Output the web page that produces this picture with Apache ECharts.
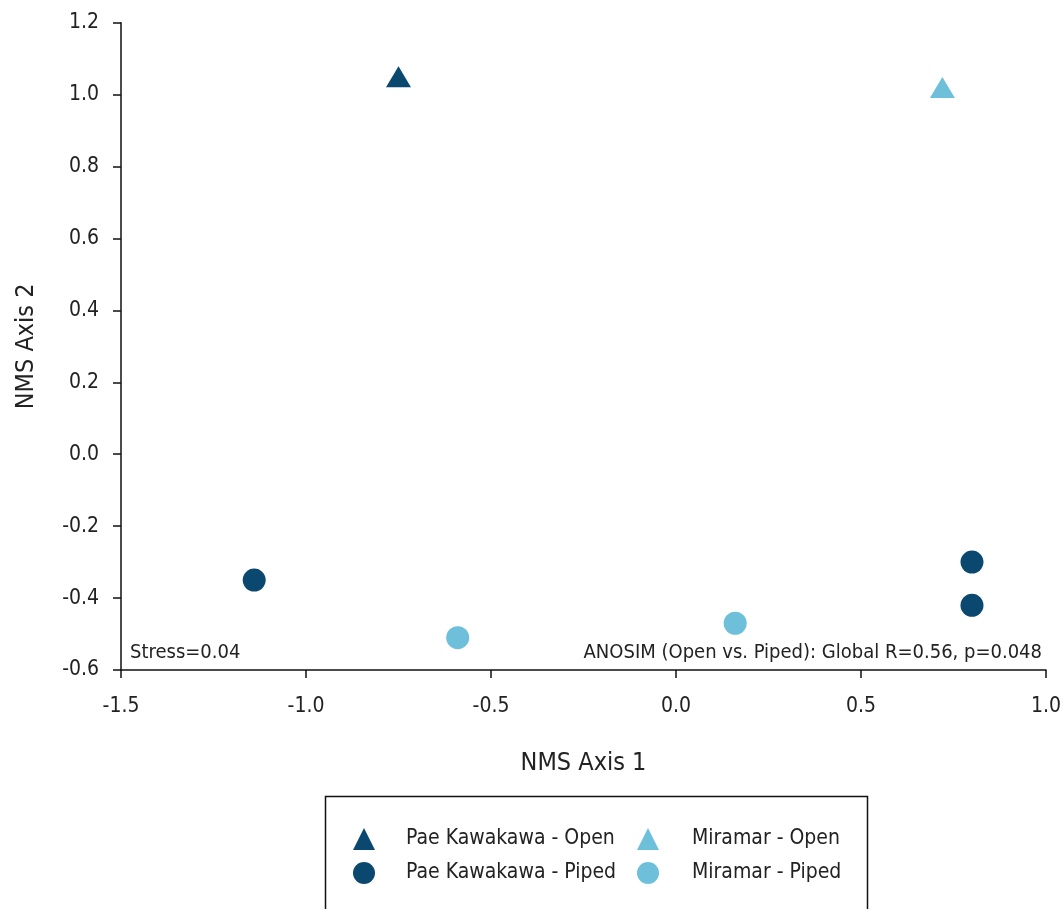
<!DOCTYPE html>
<html>
<head>
<meta charset="utf-8">
<script src="https://cdn.jsdelivr.net/npm/echarts@6/dist/echarts.min.js"></script>
<style>
html,body{margin:0;padding:0;background:#fff;}
#chart{width:1064px;height:909px;}
</style>
</head>
<body>
<div id="chart"></div>
<script>
// ---- data ----
var seriesNames = ['Pae Kawakawa - Open', 'Pae Kawakawa - Piped', 'Miramar - Open', 'Miramar - Piped'];
var paeOpen = [[-0.75, 1.05]];
var paePiped = [[-1.14, -0.35], [0.80, -0.30], [0.80, -0.42]];
var miramarOpen = [[0.72, 1.02]];
var miramarPiped = [[-0.59, -0.51], [0.16, -0.47]];
var xTicks = [-1.5, -1.0, -0.5, 0.0, 0.5, 1.0];
var yTicks = [-0.6, -0.4, -0.2, 0.0, 0.2, 0.4, 0.6, 0.8, 1.0, 1.2];
var stressText = 'Stress=0.04';
var anosimText = 'ANOSIM (Open vs. Piped): Global R=0.56, p=0.048';

var FONT = "'Liberation Sans Narrow', 'DejaVu Sans Condensed', Roboto, sans-serif";
var DARK = '#0a4870';
var LIGHT = '#6ec0da';

var chart = echarts.init(document.getElementById('chart'));
var axisCommon = {
  axisLine: {show: true, onZero: false, lineStyle: {color: '#111', width: 1.5}},
  axisTick: {show: true, inside: false, length: 8, lineStyle: {color: '#111', width: 1.5}},
  splitLine: {show: false},
  nameLocation: 'middle',
  nameTextStyle: {fontFamily: FONT, fontSize: 25, color: '#222'},
  axisLabel: {fontFamily: FONT, fontSize: 21, color: '#222', formatter: function (v) { return v.toFixed(1); }}
};
chart.setOption({
  animation: false,
  grid: {left: 121, right: 16, top: 22.7, bottom: 239, containLabel: false},
  xAxis: Object.assign({}, axisCommon, {
    type: 'value', min: xTicks[0], max: xTicks[xTicks.length - 1], interval: 0.5,
    name: 'NMS Axis 1', nameGap: 81,
    axisLabel: Object.assign({}, axisCommon.axisLabel, {margin: 26})
  }),
  yAxis: Object.assign({}, axisCommon, {
    type: 'value', min: yTicks[0], max: yTicks[yTicks.length - 1], interval: 0.2,
    name: 'NMS Axis 2', nameGap: 82,
    axisLabel: Object.assign({}, axisCommon.axisLabel, {margin: 22})
  }),
  legend: [
    {
      orient: 'vertical', left: 348, top: 823, itemWidth: 22, itemHeight: 22, itemGap: 12,
      data: [seriesNames[0], seriesNames[1]],
      textStyle: {fontFamily: FONT, fontSize: 21, color: '#222', padding: [3, 0, 0, 26]}
    },
    {
      orient: 'vertical', left: 632, top: 823, itemWidth: 22, itemHeight: 22, itemGap: 12,
      data: [seriesNames[2], seriesNames[3]],
      textStyle: {fontFamily: FONT, fontSize: 21, color: '#222', padding: [3, 0, 0, 28]}
    }
  ],
  graphic: [
    {type: 'rect', left: 323, top: 794, z: 1, silent: true,
      shape: {width: 542, height: 160}, style: {fill: 'none', stroke: '#111', lineWidth: 1.5}},
    {type: 'text', left: 130, top: 643, style: {text: stressText, font: "20px " + FONT, fill: '#222'}},
    {type: 'text', right: 22, top: 643, style: {text: anosimText, font: "20px " + FONT, fill: '#222'}}
  ],
  series: [
    {name: seriesNames[0], type: 'scatter', data: paeOpen, symbol: 'triangle', symbolSize: [25, 21], itemStyle: {color: DARK, opacity: 1}},
    {name: seriesNames[1], type: 'scatter', data: paePiped, symbol: 'circle', symbolSize: 23, itemStyle: {color: DARK, opacity: 1}},
    {name: seriesNames[2], type: 'scatter', data: miramarOpen, symbol: 'triangle', symbolSize: [25, 21], itemStyle: {color: LIGHT, opacity: 1}},
    {name: seriesNames[3], type: 'scatter', data: miramarPiped, symbol: 'circle', symbolSize: 23, itemStyle: {color: LIGHT, opacity: 1}}
  ]
});
</script>
</body>
</html>
